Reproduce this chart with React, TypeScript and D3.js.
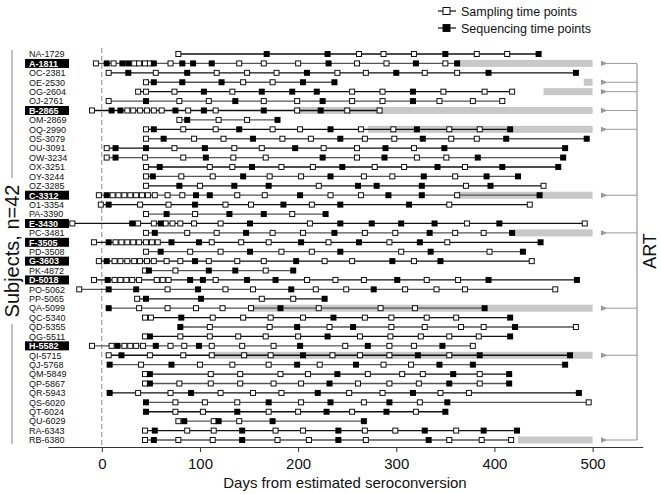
import React, { useEffect, useRef } from 'react'
import * as d3 from 'd3'

const subjects = [
    'NA-1729', 'A-1811', 'OC-2381', 'OE-2530', 'OG-2604', 'OJ-2761', 'B-2865', 'OM-2869',
    'OQ-2990', 'OS-3079', 'OU-3091', 'OW-3234', 'OX-3251', 'OY-3244', 'OZ-3285', 'C-3312',
    'O1-3354', 'PA-3390', 'E-3430', 'PC-3481', 'F-3505', 'PD-3508', 'G-3603', 'PK-4872',
    'D-5018', 'PO-5062', 'PP-5065', 'QA-5099', 'QC-5340', 'QD-5355', 'QG-5511', 'H-5582',
    'QI-5715', 'QJ-5768', 'QM-5849', 'QP-5867', 'QR-5943', 'QS-6020', 'QT-6024', 'QU-6029',
    'RA-6343', 'RB-6380',
]

const highlighted = ['A-1811', 'B-2865', 'C-3312', 'E-3430', 'F-3505', 'G-3603', 'D-5018', 'H-5582']

// open squares
const sampling = [
    [78, 262, 287, 318, 382, 413],
    [-6, 12, 33, 38, 44, 49, 70, 140, 165, 200, 260, 290, 350],
    [7, 55, 117, 148, 178, 240, 269, 329, 362],
    [45, 144, 174],
    [37, 45, 74, 133, 255, 286, 348, 390, 418],
    [7, 79, 109, 165, 199, 255, 286, 344, 378, 408],
    [-10, 26, 32, 39, 46, 53, 61, 88, 116, 199, 250, 283],
    [79, 119, 148],
    [45, 83, 116, 174, 202, 264, 297, 354, 385],
    [45, 94, 124, 184, 213, 268, 298, 356, 382],
    [5, 74, 135, 163, 226, 260, 318],
    [5, 44, 83, 134, 167, 260, 321, 351],
    [45, 110, 133, 183, 215, 278, 308, 370],
    [45, 81, 113, 171, 203, 267, 296, 360],
    [45, 100, 221, 371, 450],
    [-3, 11, 17, 23, 29, 35, 41, 47, 54, 67, 82, 138, 166, 233, 264, 362],
    [-1, 39, 68, 126, 152, 214, 354, 436],
    [45, 95, 194],
    [-30, 37, 53, 65, 72, 80, 94, 121, 212, 372, 492],
    [45, 87, 117, 174, 205, 268, 299, 360, 389],
    [-8, 14, 20, 26, 32, 38, 45, 51, 57, 112, 142, 170, 231, 293, 352],
    [45, 90, 121, 183, 214, 305, 395],
    [-3, 13, 19, 26, 33, 39, 46, 53, 66, 80, 109, 138, 165, 227, 255, 318, 438],
    [44, 75, 167],
    [-8, 13, 19, 25, 31, 38, 56, 62, 68, 116, 209, 238, 267, 331, 363],
    [-23, 67, 126, 154, 218, 249, 309, 341, 370, 462],
    [36, 163, 195],
    [38, 67, 96, 123, 152, 221, 284, 319],
    [44, 50, 113, 144, 172, 205, 268, 295, 331, 361],
    [110, 171, 232, 295, 329, 366, 389, 483],
    [44, 80, 110, 139, 167, 200, 263, 294, 325, 354, 384],
    [-10, 10, 23, 29, 35, 42, 70, 84, 112, 143, 175, 248, 293, 318, 378],
    [7, 49, 83, 112, 145, 172, 235, 263, 293, 354],
    [40, 100, 133, 170, 222, 287, 315],
    [44, 111, 141, 182, 210, 271, 306, 327, 385],
    [44, 79, 111, 141, 175, 203, 261, 293, 323, 385],
    [37, 70, 121, 154, 183, 252, 286, 345, 374],
    [75, 105, 138, 203, 267, 324, 496],
    [75, 103, 170, 200, 255, 320],
    [78, 114, 140],
    [44, 87, 114, 177, 205, 268, 299, 361],
    [44, 78, 113, 179, 211, 269, 354, 387, 417],
]

// filled squares
const sequencing = [
    [168, 230, 350, 445],
    [5, 21, 27, 53, 82, 93, 112, 231, 320, 362],
    [27, 87, 209, 300, 394, 483],
    [53, 82, 122, 205, 237],
    [104, 163, 194, 219, 317],
    [45, 136, 225, 317],
    [10, 19, 75, 104, 165, 223],
    [87, 179],
    [53, 140, 233, 321, 416],
    [63, 154, 243, 327, 412, 494],
    [14, 45, 105, 197, 289, 349, 472],
    [14, 106, 225, 288, 383, 470],
    [59, 153, 245, 342, 408, 465],
    [52, 144, 233, 328, 392, 424],
    [79, 135, 170, 261, 280, 326, 396],
    [5, 96, 110, 202, 292, 326, 446],
    [7, 95, 185, 243, 313],
    [66, 130, 165, 228],
    [31, 60, 151, 243, 275, 305, 339, 405],
    [54, 147, 237, 334, 418],
    [7, 71, 99, 203, 262, 324, 447],
    [60, 151, 243, 335, 429],
    [5, 95, 198, 296, 345],
    [48, 109, 136, 195],
    [6, 90, 103, 148, 177, 301, 394, 484],
    [7, 35, 98, 193, 277],
    [45, 101, 227],
    [7, 182, 390],
    [81, 236, 416],
    [80, 199, 256, 421],
    [49, 230, 416],
    [16, 55, 99, 202, 271, 347],
    [20, 205, 322, 385, 477],
    [8, 71, 199, 259, 344, 378, 472],
    [49, 240, 358, 415],
    [49, 232, 354, 415],
    [8, 91, 220, 317, 486],
    [45, 170, 233, 293, 352],
    [45, 138, 229, 290, 350],
    [84, 119, 174, 267],
    [54, 143, 241, 329, 389, 423],
    [53, 143, 241, 333],
]

// start of ART (gray bar up to day 500), null = no ART
const artStart = [
    null, 360, null, 491, 450, null, 198, null, 271, null, null, null, null, null, null, 362,
    null, null, null, 420, null, null, null, null, null, null, null, 150, null, null, null, null,
    113, null, null, null, null, null, null, null, null, 424,
]

const xTicks = [0, 100, 200, 300, 400, 500]
const artEnd = 500

const font = 'Liberation Sans, Arial, sans-serif'

function App() {
    const axisRef = useRef<SVGGElement>(null)
    const width = 661
    const height = 494
    const axisY = 447

    const x = d3.scaleLinear().domain([0, 500]).range([101.8, 592.6])
    const y = d3.scalePoint<string>().domain(subjects).range([54, 440])

    useEffect(() => {
        const axisScale = x.copy().domain([-55, 551]).range([x(-55), x(551)])
        const g = d3.select(axisRef.current)
        g.selectAll('*').remove()
        g.call(d3.axisBottom(axisScale).tickValues(xTicks).tickSize(5).tickSizeOuter(0))
        g.select('.domain').attr('stroke', '#333').attr('stroke-width', 1.2)
        g.selectAll('.tick line').attr('stroke', '#333')
        g.selectAll('.tick text')
            .attr('font-size', 15)
            .attr('font-family', font)
            .attr('fill', '#111')
            .attr('dy', '0.95em')
    }, [])

    const artRows = subjects.filter((_, i) => artStart[i] !== null)
    const bracketX = 637
    const arrowX = 603
    const yFirst = y(artRows[0])!
    const yLast = y(artRows[artRows.length - 1])!

    return (
        <svg width={width} height={height} style={{ position: 'absolute', left: 0, top: 0 }} fontFamily={font}>
            <defs>
                <marker id="arr" viewBox="0 0 10 10" refX="1" refY="5" markerWidth="7" markerHeight="7" orient="auto-start-reverse">
                    <path d="M10,1 L0,5 L10,9 Z" fill="#999" />
                </marker>
            </defs>

            {/* legend */}
            {[{ label: 'Sampling time points', fill: 'white', y: 11 }, { label: 'Sequencing time points', fill: 'black', y: 28 }].map(d => (
                <g key={d.label}>
                    <line x1={438} x2={456} y1={d.y} y2={d.y} stroke="#111" strokeWidth={1.2} />
                    <rect x={443} y={d.y - 3.5} width={7} height={7} fill={d.fill} stroke="#111" strokeWidth={1} />
                    <text x={461} y={d.y + 4.5} fontSize={12.5} fill="#111">{d.label}</text>
                </g>
            ))}

            {/* seroconversion */}
            <line x1={x(0)} x2={x(0)} y1={48} y2={axisY} stroke="#888" strokeDasharray="5,3" strokeWidth={1} />

            {/* ART bars */}
            {subjects.map((s, i) => artStart[i] === null ? null : (
                <rect key={'art' + s} x={x(artStart[i]!)} y={y(s)! - 3.5} width={x(artEnd) - x(artStart[i]!)} height={7} fill="#c8c8c8" />
            ))}

            {/* rows */}
            {subjects.map((s, i) => {
                const all = [...sampling[i], ...sequencing[i]]
                const lo = d3.min(all)!
                const hi = d3.max(all)!
                const yy = y(s)!
                return (
                    <g key={s}>
                        <line x1={x(lo)} x2={x(hi)} y1={yy} y2={yy} stroke={i % 2 ? '#555' : '#111'} strokeWidth={1.3} />
                        {sampling[i].map((v, j) => (
                            <rect key={'o' + j} x={x(v) - 2.5} y={yy - 2.5} width={5} height={5} fill="white" stroke="#111" strokeWidth={1} />
                        ))}
                        {sequencing[i].map((v, j) => (
                            <rect key={'f' + j} x={x(v) - 3} y={yy - 3} width={6} height={6} fill="black" />
                        ))}
                    </g>
                )
            })}

            {/* subject labels */}
            {subjects.map(s => {
                const hl = highlighted.includes(s)
                const yy = y(s)!
                return (
                    <g key={'l' + s}>
                        {hl && <rect x={25} y={yy - 4.5} width={44} height={9} fill="black" />}
                        <text x={29} y={yy + 3.3} fontSize={9} fill={hl ? 'white' : '#111'} fontWeight={hl ? 'bold' : 'normal'}>{s}</text>
                    </g>
                )
            })}

            {/* left bracket */}
            <line x1={12} x2={12} y1={50} y2={178} stroke="#888" strokeWidth={1} />
            <line x1={12} x2={12} y1={324} y2={444} stroke="#888" strokeWidth={1} />
            <text transform="translate(19,251) rotate(-90)" textAnchor="middle" fontSize={20} fill="#111">Subjects, n=42</text>

            {/* ART bracket */}
            <line x1={bracketX} x2={bracketX} y1={yFirst} y2={yLast} stroke="#999" strokeWidth={1.2} />
            {artRows.map(s => (
                <line key={'a' + s} x1={bracketX} x2={arrowX + 4} y1={y(s)} y2={y(s)} stroke="#999" strokeWidth={1} markerEnd="url(#arr)" />
            ))}
            <text transform="translate(656,251) rotate(-90)" textAnchor="middle" fontSize={18} fill="#111">ART</text>

            {/* x axis */}
            <g ref={axisRef} transform={`translate(0,${axisY})`} />
            <text x={345} y={488} textAnchor="middle" fontSize={15} fill="#111">Days from estimated seroconversion</text>
        </svg>
    )
}

export default App
